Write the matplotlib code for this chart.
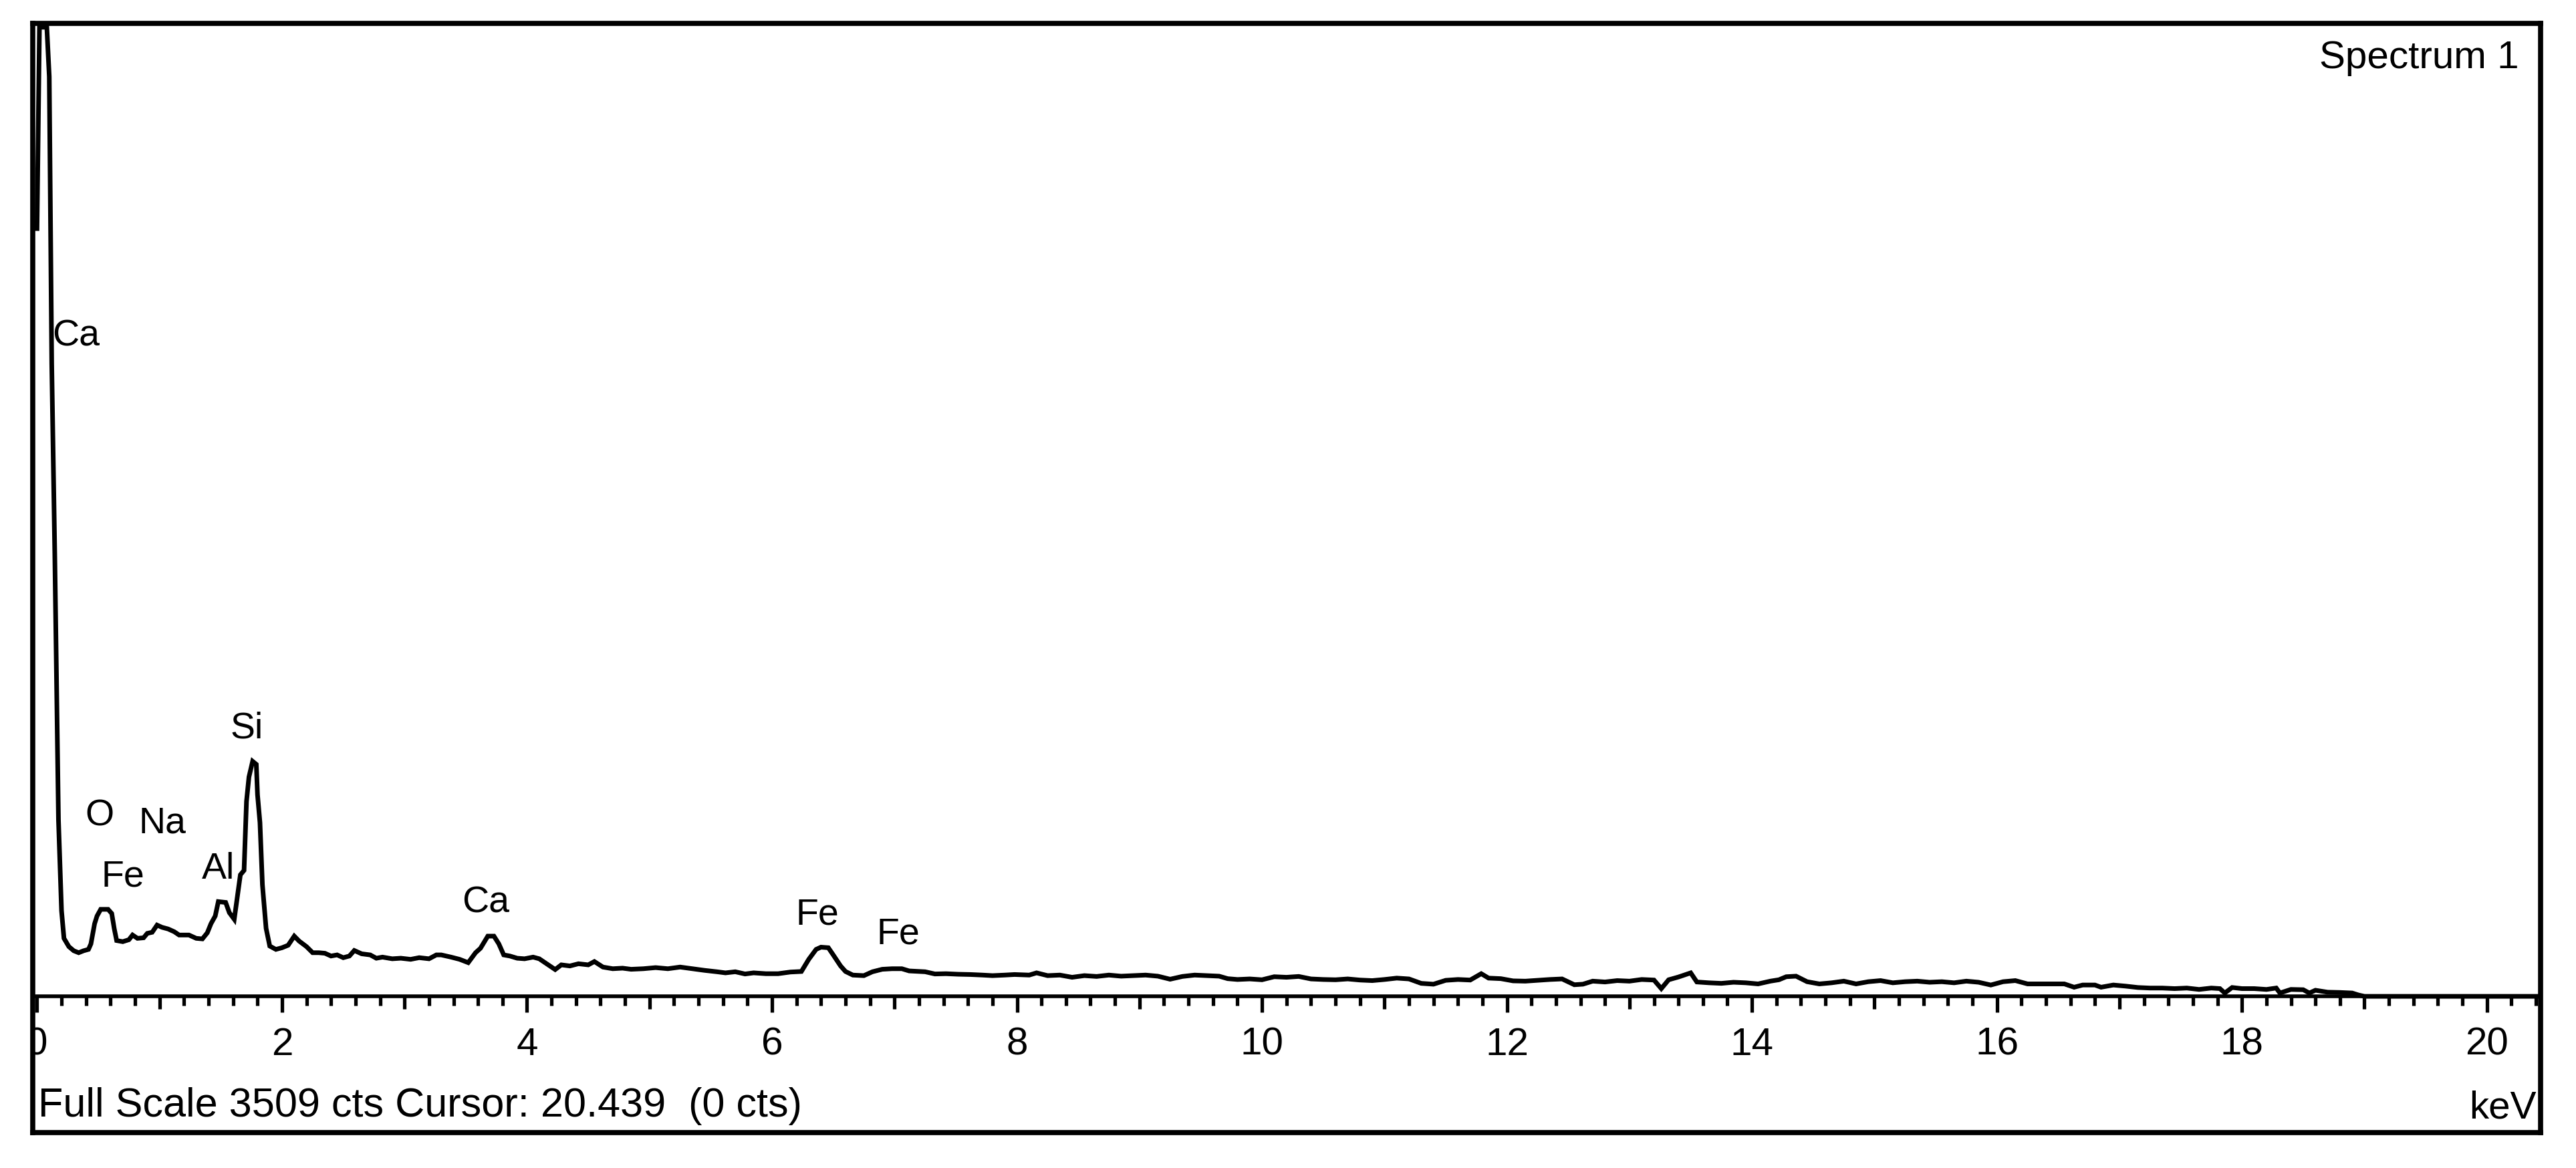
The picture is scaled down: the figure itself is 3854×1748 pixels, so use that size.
import numpy as np
import matplotlib.pyplot as plt

# EDS spectrum: energy [keV] vs counts
e_low = [0.00, 0.02, 0.08, 0.10, 0.12, 0.145, 0.175, 0.20, 0.22, 0.26,
         0.30, 0.34, 0.38, 0.42, 0.44, 0.47, 0.49, 0.52, 0.58, 0.61,
         0.63, 0.65, 0.70, 0.75, 0.78, 0.82, 0.87, 0.90, 0.94, 0.98,
         1.02, 1.07, 1.12, 1.16, 1.24, 1.30, 1.35, 1.39, 1.42, 1.455,
         1.48, 1.54, 1.57, 1.61, 1.635, 1.66, 1.69, 1.71, 1.73, 1.76,
         1.79, 1.80, 1.82, 1.84, 1.87, 1.90, 1.95, 2.00, 2.05, 2.10,
         2.14, 2.20, 2.25, 2.30, 2.35, 2.40]
c_low = [2780, 3509, 3509, 3330, 2290, 1600, 640, 310, 210, 180,
         165, 158, 165, 170, 190, 263, 291, 315, 315, 300,
         246, 202, 198, 205, 222, 210, 212, 228, 232, 258,
         250, 244, 234, 222, 222, 210, 208, 230, 263, 291,
         343, 340, 303, 279, 359, 440, 456, 706, 794, 851,
         840, 730, 629, 404, 246, 182, 170, 176, 185, 218,
         200, 180, 158, 158, 156, 146]

e_mid = [2.45, 2.50, 2.55, 2.59, 2.65, 2.72, 2.77, 2.82, 2.90, 2.97,
         3.05, 3.12, 3.20, 3.26, 3.30, 3.38, 3.45, 3.52, 3.58, 3.62,
         3.68, 3.73, 3.77, 3.81, 3.86, 3.92, 3.98, 4.05, 4.10, 4.16,
         4.23, 4.28, 4.35, 4.42, 4.50, 4.55, 4.62, 4.70, 4.78, 4.85,
         4.95, 5.05, 5.15, 5.25, 5.35, 5.45, 5.55, 5.62, 5.70, 5.78,
         5.85, 5.95, 6.05, 6.15, 6.24, 6.30, 6.36, 6.40, 6.46, 6.50,
         6.56, 6.60, 6.66, 6.75, 6.82, 6.90, 6.98, 7.06, 7.12, 7.25,
         7.33, 7.42, 7.52, 7.62, 7.72, 7.80, 7.90, 7.98, 8.10]
c_mid = [150, 140, 146, 166, 154, 150, 138, 142, 136, 138,
         134, 140, 136, 150, 150, 142, 134, 122, 158, 174,
         218, 218, 190, 150, 146, 138, 136, 142, 136, 118,
         97, 114, 110, 118, 114, 126, 106, 100, 102, 98,
         100, 104, 100, 106, 100, 94, 89, 85, 89, 81,
         85, 82, 82, 88, 90, 134, 170, 178, 176, 150,
         110, 90, 77, 75, 89, 98, 100, 100, 92, 89,
         81, 82, 80, 79, 77, 75, 77, 79, 77]

e_hi = [8.16, 8.25, 8.35, 8.45, 8.55, 8.65, 8.75, 8.85, 8.95, 9.05,
        9.15, 9.25, 9.35, 9.45, 9.55, 9.65, 9.72, 9.80, 9.90, 10.00,
        10.10, 10.20, 10.30, 10.40, 10.50, 10.60, 10.70, 10.80, 10.90, 11.00,
        11.10, 11.20, 11.30, 11.40, 11.50, 11.60, 11.70, 11.79, 11.85, 11.95,
        12.05, 12.15, 12.25, 12.35, 12.45, 12.55, 12.62, 12.70, 12.80, 12.90,
        13.00, 13.10, 13.20, 13.26, 13.32, 13.40, 13.50, 13.55, 13.65, 13.75,
        13.85]
c_hi = [85, 75, 77, 69, 75, 72, 77, 73, 75, 77,
        73, 62, 72, 77, 75, 73, 64, 61, 63, 60,
        71, 69, 72, 63, 61, 60, 63, 59, 57, 61,
        66, 63, 47, 44, 58, 61, 59, 82, 66, 64,
        56, 55, 58, 61, 63, 42, 44, 55, 52, 57,
        55, 61, 59, 28, 60, 70, 85, 52, 49, 47,
        51]

e_tail = [13.95, 14.05, 14.15, 14.22, 14.28, 14.36, 14.45, 14.55, 14.65, 14.75,
          14.85, 14.95, 15.05, 15.15, 15.25, 15.35, 15.45, 15.55, 15.65, 15.75,
          15.85, 15.95, 16.05, 16.15, 16.25, 16.40, 16.55, 16.63, 16.70, 16.80,
          16.85, 16.95, 17.05, 17.15, 17.25, 17.35, 17.45, 17.55, 17.65, 17.75,
          17.82, 17.86, 17.92, 18.00, 18.10, 18.20, 18.28, 18.31, 18.40, 18.50,
          18.55, 18.60, 18.70, 18.80, 18.90, 18.95, 19.00, 20.44]
c_tail = [49, 45, 55, 60, 71, 73, 53, 45, 49, 55,
          45, 53, 57, 49, 53, 55, 51, 53, 49, 55,
          51, 41, 53, 57, 45, 45, 45, 33, 41, 41,
          33, 41, 37, 32, 30, 30, 28, 30, 25, 30,
          28, 12, 32, 28, 28, 25, 30, 12, 25, 24,
          12, 22, 15, 14, 12, 5, 0, 0]

# element labels on the peaks
peak_names = ['Ca', 'O', 'Na', 'Fe', 'Al', 'Si', 'Ca', 'Fe', 'Fe']
peak_kev = [0.125, 0.51, 1.025, 0.70, 1.48, 1.71, 3.66, 6.37, 7.03]
peak_cts = [2390, 652, 626, 432, 459, 969, 338, 295, 225]

tick_values = [0, 2, 4, 6, 8, 10, 12, 14, 16, 18, 20]
full_scale = 3509
cursor_kev = 20.439

energy = np.concatenate([e_low, e_mid, e_hi, e_tail])
counts = np.concatenate([c_low, c_mid, c_hi, c_tail])

plt.rcParams['font.family'] = ['Liberation Sans', 'DejaVu Sans']

fig = plt.figure(figsize=(38.55, 17.48), dpi=100)
ax = fig.add_axes([0.0128, 0.0304, 0.9731, 0.9496])
ax.set_xlim(-0.033, 20.436)
ax.set_ylim(-493, 3523)
ax.set_xticks([])
ax.set_yticks([])
for sp in ax.spines.values():
    sp.set_linewidth(5.5)

# spectrum trace
ax.plot(energy, counts, color='black', lw=5, solid_joinstyle='miter')

# energy axis drawn at zero counts
ax.axhline(0, color='black', lw=4)
minor = np.arange(0.2, 20.41, 0.2)
minor = minor[np.abs(minor - np.round(minor)) > 0.05]
ax.vlines(minor, -33, 0, color='black', lw=3.8)
ax.vlines(np.arange(1, 20, 2), -46, 0, color='black', lw=3.8)
ax.vlines(np.arange(0, 20.1, 2), -58, 0, color='black', lw=3.8)
for t in tick_values:
    ax.text(t, -176, str(t), ha='center', va='center', fontsize=42, clip_on=True)

# peak labels
for i, (name, xk, yc) in enumerate(zip(peak_names, peak_kev, peak_cts)):
    ax.text(xk, yc, name, ha='left' if i == 0 else 'center', va='center', fontsize=40)

ax.text(0.9915, 0.9687, 'Spectrum 1', transform=ax.transAxes,
        ha='right', va='center', fontsize=42)
ax.text(0.002, 0.0235, f'Full Scale {full_scale} cts Cursor: {cursor_kev}  (0 cts)',
        transform=ax.transAxes, ha='left', va='center', fontsize=44)
ax.text(0.9984, 0.0217, 'keV', transform=ax.transAxes, ha='right', va='center', fontsize=42)

fig.savefig('out.png', dpi=100, facecolor='white')
